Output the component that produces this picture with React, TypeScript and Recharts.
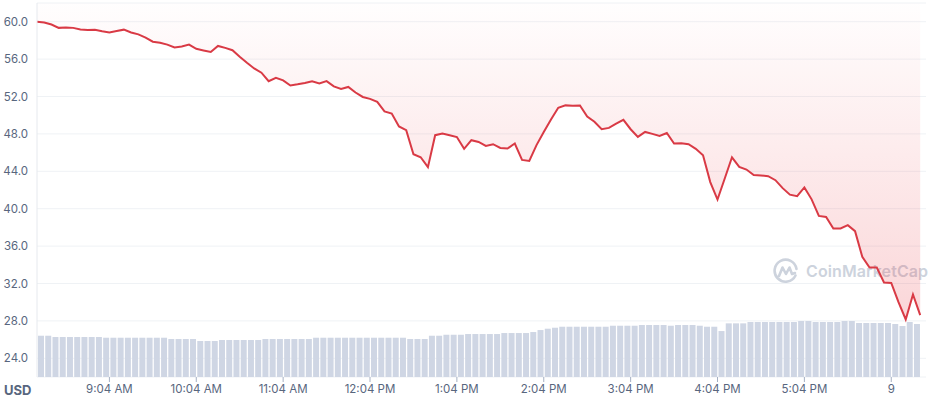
import React from 'react';
import { ComposedChart, Area, Line, Bar, XAxis, YAxis, CartesianGrid } from 'recharts';

// Price (USD) every 5 minutes, starting 8:14 AM
const prices = [
  60.0, 59.92, 59.7, 59.34, 59.39, 59.34, 59.16, 59.1, 59.14, 58.97,
  58.85, 59.0, 59.15, 58.85, 58.65, 58.3, 57.86, 57.74, 57.55, 57.24,
  57.35, 57.55, 57.1, 56.93, 56.77, 57.41, 57.2, 56.95, 56.25, 55.6,
  55.0, 54.55, 53.64, 53.99, 53.72, 53.18, 53.3, 53.45, 53.62, 53.4,
  53.64, 53.08, 52.8, 53.02, 52.43, 51.95, 51.75, 51.42, 50.4, 50.18,
  48.8, 48.4, 45.83, 45.5, 44.44, 47.86, 48.03, 47.85, 47.66, 46.4,
  47.33, 47.14, 46.72, 46.9, 46.5, 46.44, 46.97, 45.22, 45.11, 46.8,
  48.2, 49.55, 50.8, 51.05, 51.0, 51.04, 49.85, 49.3, 48.5, 48.64,
  49.1, 49.5, 48.5, 47.68, 48.21, 48.0, 47.79, 48.1, 46.97, 47.0,
  46.9, 46.4, 45.72, 42.85, 40.98, 43.23, 45.5, 44.47, 44.19, 43.6,
  43.55, 43.48, 43.05, 42.2, 41.5, 41.34, 42.27, 41.0, 39.23, 39.12,
  37.88, 37.88, 38.24, 37.6, 34.85, 33.71, 33.71, 32.11, 32.06, 30.0,
  28.15, 30.82, 28.61,
];

// 24h volume (millions USD) per 5-minute interval
const volumes = [
  993, 993, 962, 962, 962, 962, 962, 962, 962, 945,
  945, 945, 945, 945, 945, 945, 945, 945, 914, 914,
  914, 914, 866, 866, 866, 890, 890, 890, 890, 890,
  890, 914, 914, 914, 914, 914, 914, 914, 945, 945,
  945, 945, 945, 945, 945, 945, 945, 945, 945, 945,
  945, 914, 914, 914, 993, 993, 1017, 1017, 1017, 1034,
  1034, 1034, 1034, 1034, 1058, 1058, 1058, 1058, 1082, 1130,
  1162, 1186, 1210, 1210, 1210, 1210, 1210, 1210, 1210, 1234,
  1234, 1234, 1234, 1251, 1251, 1251, 1251, 1234, 1251, 1251,
  1251, 1234, 1210, 1210, 1106, 1291, 1291, 1291, 1323, 1323,
  1323, 1323, 1323, 1323, 1323, 1347, 1347, 1323, 1323, 1323,
  1323, 1347, 1347, 1299, 1299, 1299, 1299, 1299, 1275, 1227,
  1323, 1275,
];

const hourTicks = [50, 110, 170, 230, 290, 350, 410, 470, 530, 590];
const hourLabels = ['9:04 AM', '10:04 AM', '11:04 AM', '12:04 PM', '1:04 PM', '2:04 PM', '3:04 PM', '4:04 PM', '5:04 PM', '9'];
const priceTicks = [24, 28, 32, 36, 40, 44, 48, 52, 56, 60];

const data = prices.map((p, i) => ({
  t: i * 5,
  tv: i * 5 + 2.5,
  price: p,
  volume: i < volumes.length ? volumes[i] : null,
}));

const TEXT = '#58667e';

export default function App() {
  return (
    <div style={{ position: 'absolute', left: 0, top: 0, width: 928, height: 405, background: '#fff', fontFamily: 'Inter, sans-serif', overflow: 'hidden' }}>
      <div style={{ position: 'absolute', left: 773, top: 258, display: 'flex', alignItems: 'center', gap: 7, color: '#cdd3dd' }}>
        <svg width="26" height="26" viewBox="0 0 26 26">
          <path d="M22.5 17.5 A11 11 0 1 1 23.5 11" fill="none" stroke="#cdd3dd" strokeWidth="2.6" strokeLinecap="round" />
          <path d="M6 18 L9.5 9.5 L13 16 L16.5 9.5 L19 16 L22 15" fill="none" stroke="#cdd3dd" strokeWidth="2.6" strokeLinejoin="round" strokeLinecap="round" />
        </svg>
        <span style={{ fontSize: 16, fontWeight: 600, letterSpacing: 0.1 }}>CoinMarketCap</span>
      </div>
      <div style={{ position: 'absolute', left: 0, top: 0 }}>
        <ComposedChart width={928} height={405} data={data} margin={{ top: 3, right: 2, bottom: 0, left: 0 }}>
          <defs>
            <linearGradient id="cmcFill" x1="0" y1="0" x2="0" y2="1">
              <stop offset="0%" stopColor="#ea3943" stopOpacity={0.01} />
              <stop offset="100%" stopColor="#ea3943" stopOpacity={0.34} />
            </linearGradient>
          </defs>
          <CartesianGrid xAxisId="p" yAxisId="p" vertical={false} stroke="#eff2f5" />
          <XAxis
            xAxisId="p"
            type="number"
            dataKey="t"
            domain={[0, 614]}
            ticks={hourTicks}
            tickFormatter={(v: number) => hourLabels[hourTicks.indexOf(v)] ?? ''}
            height={28}
            axisLine={false}
            tickSize={5}
            tickMargin={3}
            tickLine={{ stroke: '#a6b0c3' }}
            tick={{ fill: TEXT, fontSize: 11.5 }}
            interval={0}
          />
          <XAxis xAxisId="v" type="number" dataKey="tv" domain={[0, 614]} hide />
          <YAxis
            yAxisId="p"
            domain={[22, 62]}
            ticks={priceTicks}
            tickFormatter={(v: number) => v.toFixed(1)}
            width={37}
            axisLine={{ stroke: '#e6e9ee' }}
            tickLine={false}
            tickMargin={3}
            tick={{ fill: TEXT, fontSize: 11.5 }}
            interval={0}
          />
          <YAxis yAxisId="v" domain={[0, 9000]} hide />
          <Bar xAxisId="v" yAxisId="v" dataKey="volume" fill="#cfd6e4" barSize={6} isAnimationActive={false} />
          <Area
            xAxisId="p"
            yAxisId="p"
            dataKey="price"
            type="linear"
            baseValue={62}
            stroke="none"
            fill="url(#cmcFill)"
            isAnimationActive={false}
          />
          <Line
            xAxisId="p"
            yAxisId="p"
            dataKey="price"
            type="linear"
            stroke="#d93a45"
            strokeWidth={2}
            dot={false}
            activeDot={false}
            isAnimationActive={false}
          />
        </ComposedChart>
      </div>
      <div style={{ position: 'absolute', left: 4, top: 382, fontSize: 13, fontWeight: 700, color: TEXT }}>USD</div>
    </div>
  );
}
